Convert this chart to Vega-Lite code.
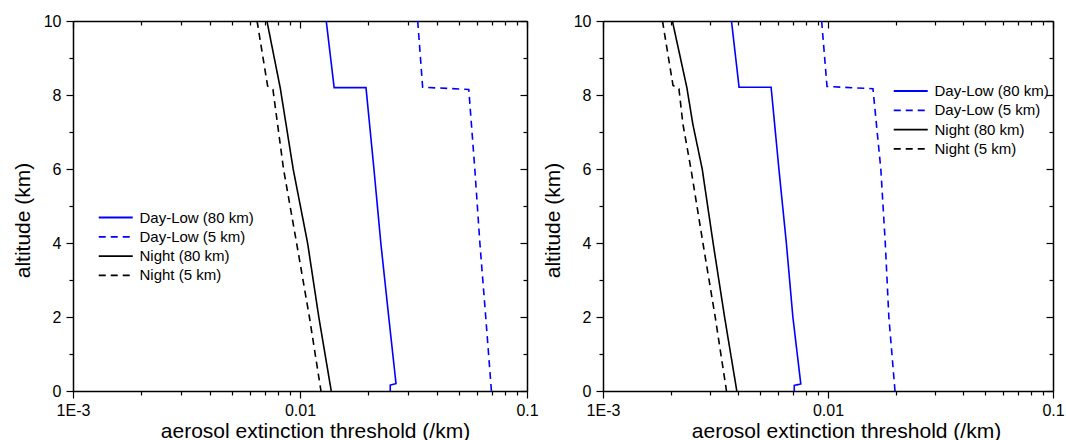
{
  "$schema": "https://vega.github.io/schema/vega-lite/v6.json",
  "padding": {"left": 12, "top": 13, "right": 5, "bottom": 0},
  "background": "white",
  "config": {
    "font": "Liberation Sans",
    "view": {"stroke": null},
    "axis": {
      "grid": false,
      "domainColor": "black",
      "domainWidth": 1.5,
      "tickColor": "black",
      "tickWidth": 1.2,
      "labelColor": "black",
      "labelFontSize": 16,
      "titleColor": "black",
      "titleFontSize": 21,
      "titleFontWeight": "normal",
      "labelFlush": false,
      "labelOverlap": false
    },
    "legend": {
      "labelFontSize": 15,
      "labelColor": "black",
      "symbolType": "M-1,0H4.9",
      "symbolSize": 133,
      "symbolStrokeWidth": 1.8,
      "labelOffset": 27.5,
      "rowPadding": 3.3
    }
  },
  "datasets": {
    "left": [
      {"series": "Day-Low (80 km)", "i": 0, "alt": 10, "ext": 0.01305},
      {"series": "Day-Low (80 km)", "i": 1, "alt": 8.2, "ext": 0.01414},
      {"series": "Day-Low (80 km)", "i": 2, "alt": 8.2, "ext": 0.01953},
      {"series": "Day-Low (80 km)", "i": 3, "alt": 6, "ext": 0.02117},
      {"series": "Day-Low (80 km)", "i": 4, "alt": 4, "ext": 0.0227},
      {"series": "Day-Low (80 km)", "i": 5, "alt": 2, "ext": 0.0246},
      {"series": "Day-Low (80 km)", "i": 6, "alt": 0.2, "ext": 0.02648},
      {"series": "Day-Low (80 km)", "i": 7, "alt": 0.16, "ext": 0.02498},
      {"series": "Day-Low (80 km)", "i": 8, "alt": 0, "ext": 0.02498},
      {"series": "Day-Low (5 km)", "i": 0, "alt": 10, "ext": 0.033},
      {"series": "Day-Low (5 km)", "i": 1, "alt": 8.21, "ext": 0.0347},
      {"series": "Day-Low (5 km)", "i": 2, "alt": 8.15, "ext": 0.0554},
      {"series": "Day-Low (5 km)", "i": 3, "alt": 6, "ext": 0.0589},
      {"series": "Day-Low (5 km)", "i": 4, "alt": 4, "ext": 0.062},
      {"series": "Day-Low (5 km)", "i": 5, "alt": 2, "ext": 0.0658},
      {"series": "Day-Low (5 km)", "i": 6, "alt": 0, "ext": 0.0697},
      {"series": "Night (80 km)", "i": 0, "alt": 10, "ext": 0.00715},
      {"series": "Night (80 km)", "i": 1, "alt": 8.18, "ext": 0.00819},
      {"series": "Night (80 km)", "i": 2, "alt": 6, "ext": 0.00933},
      {"series": "Night (80 km)", "i": 3, "alt": 4, "ext": 0.0108},
      {"series": "Night (80 km)", "i": 4, "alt": 2, "ext": 0.0121},
      {"series": "Night (80 km)", "i": 5, "alt": 0, "ext": 0.01373},
      {"series": "Night (5 km)", "i": 0, "alt": 10, "ext": 0.00647},
      {"series": "Night (5 km)", "i": 1, "alt": 8.24, "ext": 0.0072},
      {"series": "Night (5 km)", "i": 2, "alt": 8.15, "ext": 0.0076},
      {"series": "Night (5 km)", "i": 3, "alt": 6, "ext": 0.00846},
      {"series": "Night (5 km)", "i": 4, "alt": 4, "ext": 0.00966},
      {"series": "Night (5 km)", "i": 5, "alt": 2, "ext": 0.0110},
      {"series": "Night (5 km)", "i": 6, "alt": 0, "ext": 0.01237}
    ],
    "right": [
      {"series": "Day-Low (80 km)", "i": 0, "alt": 10, "ext": 0.003724},
      {"series": "Day-Low (80 km)", "i": 1, "alt": 8.21, "ext": 0.004025},
      {"series": "Day-Low (80 km)", "i": 2, "alt": 8.21, "ext": 0.005587},
      {"series": "Day-Low (80 km)", "i": 3, "alt": 6, "ext": 0.00605},
      {"series": "Day-Low (80 km)", "i": 4, "alt": 4, "ext": 0.00653},
      {"series": "Day-Low (80 km)", "i": 5, "alt": 2, "ext": 0.00698},
      {"series": "Day-Low (80 km)", "i": 6, "alt": 0.19, "ext": 0.00757},
      {"series": "Day-Low (80 km)", "i": 7, "alt": 0.15, "ext": 0.00708},
      {"series": "Day-Low (80 km)", "i": 8, "alt": 0, "ext": 0.00708},
      {"series": "Day-Low (5 km)", "i": 0, "alt": 10, "ext": 0.00937},
      {"series": "Day-Low (5 km)", "i": 1, "alt": 8.23, "ext": 0.0099},
      {"series": "Day-Low (5 km)", "i": 2, "alt": 8.17, "ext": 0.01584},
      {"series": "Day-Low (5 km)", "i": 3, "alt": 6, "ext": 0.01717},
      {"series": "Day-Low (5 km)", "i": 4, "alt": 4, "ext": 0.01797},
      {"series": "Day-Low (5 km)", "i": 5, "alt": 2, "ext": 0.01864},
      {"series": "Day-Low (5 km)", "i": 6, "alt": 0, "ext": 0.01985},
      {"series": "Night (80 km)", "i": 0, "alt": 10, "ext": 0.002034},
      {"series": "Night (80 km)", "i": 1, "alt": 8.2, "ext": 0.002359},
      {"series": "Night (80 km)", "i": 2, "alt": 7.22, "ext": 0.002506},
      {"series": "Night (80 km)", "i": 3, "alt": 6, "ext": 0.00276},
      {"series": "Night (80 km)", "i": 4, "alt": 4, "ext": 0.003086},
      {"series": "Night (80 km)", "i": 5, "alt": 2, "ext": 0.00347},
      {"series": "Night (80 km)", "i": 6, "alt": 0, "ext": 0.003933},
      {"series": "Night (5 km)", "i": 0, "alt": 10, "ext": 0.001838},
      {"series": "Night (5 km)", "i": 1, "alt": 8.26, "ext": 0.002047},
      {"series": "Night (5 km)", "i": 2, "alt": 8.17, "ext": 0.002175},
      {"series": "Night (5 km)", "i": 3, "alt": 7.22, "ext": 0.002265},
      {"series": "Night (5 km)", "i": 4, "alt": 6, "ext": 0.00246},
      {"series": "Night (5 km)", "i": 5, "alt": 4, "ext": 0.00278},
      {"series": "Night (5 km)", "i": 6, "alt": 2, "ext": 0.003153},
      {"series": "Night (5 km)", "i": 7, "alt": 0, "ext": 0.003539}
    ]
  },
  "hconcat": [
    {
      "width": 454,
      "height": 370,
      "data": {"name": "left"},
      "layer": [
        {
          "mark": {"type": "line", "strokeWidth": 1.6},
          "encoding": {
            "x": {"field": "ext", "type": "quantitative", "scale": {"type": "log", "domain": [0.001, 0.1]},
              "axis": {"orient": "bottom", "title": "aerosol extinction threshold (/km)",
                "values": [0.001,0.002,0.003,0.004,0.005,0.006,0.007,0.008,0.009,0.01,0.02,0.03,0.04,0.05,0.06,0.07,0.08,0.09,0.1],
                "labelExpr": "datum.value == 0.001 ? '1E-3' : (datum.value == 0.01 ? '0.01' : (datum.value == 0.1 ? '0.1' : ''))",
                "tickSize": {"condition": {"test": "datum.value == 0.001 || datum.value == 0.01 || datum.value == 0.1", "value": 7}, "value": 4},
                "labelPadding": 4, "titleX": 242, "titleY": 46, "titleBaseline": "alphabetic"}},
            "y": {"field": "alt", "type": "quantitative", "scale": {"domain": [0, 10], "nice": false},
              "axis": {"orient": "left", "title": "altitude (km)",
                "values": [0,1,2,3,4,5,6,7,8,9,10],
                "labelExpr": "datum.value % 2 == 0 ? datum.label : ''",
                "tickSize": {"condition": {"test": "datum.value % 2 == 0", "value": 7}, "value": 4},
                "labelPadding": 5, "titleX": -50, "titleY": 199, "titleBaseline": "middle"}},
            "color": {"field": "series", "type": "nominal",
              "scale": {"domain": ["Day-Low (80 km)", "Day-Low (5 km)", "Night (80 km)", "Night (5 km)"], "range": ["#0000ff", "#0000ff", "#000000", "#000000"]},
              "legend": {"orient": "none", "legendX": 24, "legendY": 189, "title": null}},
            "strokeDash": {"field": "series", "type": "nominal",
              "scale": {"domain": ["Day-Low (80 km)", "Day-Low (5 km)", "Night (80 km)", "Night (5 km)"], "range": [[1, 0], [7, 5], [1, 0], [7, 5]]},
              "legend": {"orient": "none", "legendX": 24, "legendY": 189, "title": null}},
            "order": {"field": "i", "type": "quantitative"}
          }
        },
        {
          "mark": {"type": "line", "opacity": 0},
          "encoding": {
            "x": {"field": "ext", "type": "quantitative", "scale": {"type": "log", "domain": [0.001, 0.1]},
              "axis": {"orient": "top", "title": null, "labels": false,
                "values": [0.001,0.002,0.003,0.004,0.005,0.006,0.007,0.008,0.009,0.01,0.02,0.03,0.04,0.05,0.06,0.07,0.08,0.09,0.1],
                "tickSize": {"condition": {"test": "datum.value == 0.001 || datum.value == 0.01 || datum.value == 0.1", "value": -7}, "value": -4}}},
            "y": {"field": "alt", "type": "quantitative", "scale": {"domain": [0, 10], "nice": false},
              "axis": {"orient": "right", "title": null, "labels": false,
                "values": [0,1,2,3,4,5,6,7,8,9,10],
                "tickSize": {"condition": {"test": "datum.value % 2 == 0", "value": -7}, "value": -4}}},
            "detail": {"field": "series"}
          }
        }
      ]
    },
    {
      "width": 450,
      "height": 370,
      "data": {"name": "right"},
      "layer": [
        {
          "mark": {"type": "line", "strokeWidth": 1.6},
          "encoding": {
            "x": {"field": "ext", "type": "quantitative", "scale": {"type": "log", "domain": [0.001, 0.1]},
              "axis": {"orient": "bottom", "title": "aerosol extinction threshold (/km)",
                "values": [0.001,0.002,0.003,0.004,0.005,0.006,0.007,0.008,0.009,0.01,0.02,0.03,0.04,0.05,0.06,0.07,0.08,0.09,0.1],
                "labelExpr": "datum.value == 0.001 ? '1E-3' : (datum.value == 0.01 ? '0.01' : (datum.value == 0.1 ? '0.1' : ''))",
                "tickSize": {"condition": {"test": "datum.value == 0.001 || datum.value == 0.01 || datum.value == 0.1", "value": 7}, "value": 4},
                "labelPadding": 4, "titleX": 243, "titleY": 46, "titleBaseline": "alphabetic"}},
            "y": {"field": "alt", "type": "quantitative", "scale": {"domain": [0, 10], "nice": false},
              "axis": {"orient": "left", "title": "altitude (km)",
                "values": [0,1,2,3,4,5,6,7,8,9,10],
                "labelExpr": "datum.value % 2 == 0 ? datum.label : ''",
                "tickSize": {"condition": {"test": "datum.value % 2 == 0", "value": 7}, "value": 4},
                "labelPadding": 5, "titleX": -50, "titleY": 199, "titleBaseline": "middle"}},
            "color": {"field": "series", "type": "nominal",
              "scale": {"domain": ["Day-Low (80 km)", "Day-Low (5 km)", "Night (80 km)", "Night (5 km)"], "range": ["#0000ff", "#0000ff", "#000000", "#000000"]},
              "legend": {"orient": "none", "legendX": 289, "legendY": 62.5, "title": null}},
            "strokeDash": {"field": "series", "type": "nominal",
              "scale": {"domain": ["Day-Low (80 km)", "Day-Low (5 km)", "Night (80 km)", "Night (5 km)"], "range": [[1, 0], [7, 5], [1, 0], [7, 5]]},
              "legend": {"orient": "none", "legendX": 289, "legendY": 62.5, "title": null}},
            "order": {"field": "i", "type": "quantitative"}
          }
        },
        {
          "mark": {"type": "line", "opacity": 0},
          "encoding": {
            "x": {"field": "ext", "type": "quantitative", "scale": {"type": "log", "domain": [0.001, 0.1]},
              "axis": {"orient": "top", "title": null, "labels": false,
                "values": [0.001,0.002,0.003,0.004,0.005,0.006,0.007,0.008,0.009,0.01,0.02,0.03,0.04,0.05,0.06,0.07,0.08,0.09,0.1],
                "tickSize": {"condition": {"test": "datum.value == 0.001 || datum.value == 0.01 || datum.value == 0.1", "value": -7}, "value": -4}}},
            "y": {"field": "alt", "type": "quantitative", "scale": {"domain": [0, 10], "nice": false},
              "axis": {"orient": "right", "title": null, "labels": false,
                "values": [0,1,2,3,4,5,6,7,8,9,10],
                "tickSize": {"condition": {"test": "datum.value % 2 == 0", "value": -7}, "value": -4}}},
            "detail": {"field": "series"}
          }
        }
      ]
    }
  ],
  "spacing": 76,
  "bounds": "flush",
  "resolve": {"scale": {"color": "independent", "strokeDash": "independent"}, "legend": {"color": "independent", "strokeDash": "independent"}}
}
